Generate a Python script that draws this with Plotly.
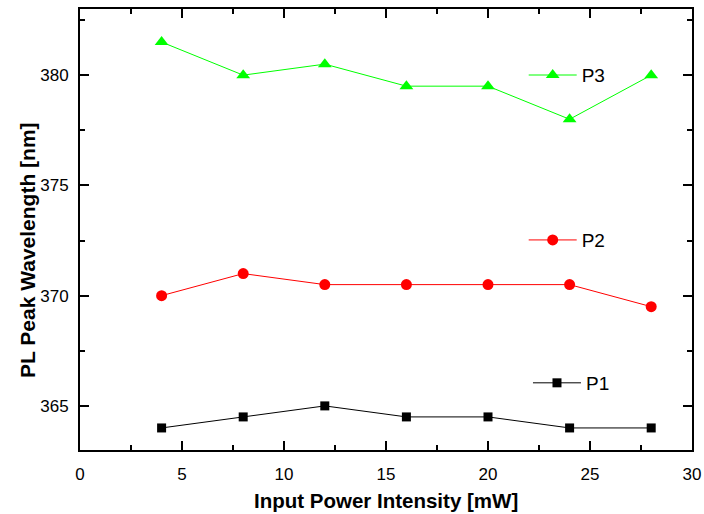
import plotly.graph_objects as go

power = [4, 8, 12, 16, 20, 24, 28]
p1 = [364, 364.5, 365, 364.5, 364.5, 364, 364]
p2 = [370, 371, 370.5, 370.5, 370.5, 370.5, 369.5]
p3 = [381.5, 380, 380.5, 379.5, 379.5, 378, 380]

x_title = "Input Power Intensity [mW]"
y_title = "PL Peak Wavelength [nm]"

fig = go.Figure()
fig.add_trace(go.Scatter(x=power, y=p1, name="P1", mode="lines+markers",
                         line=dict(color="black", width=1),
                         marker=dict(symbol="square", size=9, color="black"),
                         legend="legend", showlegend=True))
fig.add_trace(go.Scatter(x=power, y=p2, name="P2", mode="lines+markers",
                         line=dict(color="#ff0000", width=1),
                         marker=dict(symbol="circle", size=11, color="#ff0000"),
                         legend="legend2", showlegend=True))
fig.add_trace(go.Scatter(x=power, y=p3, name="P3", mode="lines+markers",
                         line=dict(color="#00ff00", width=1),
                         marker=dict(symbol="triangle-up", size=12, color="#00ff00"),
                         legend="legend3", showlegend=True))

fam = "Liberation Sans, Arial, sans-serif"
font = dict(family=fam, size=17, color="black")
lfont = dict(family=fam, size=19, color="black")
leg = dict(xanchor="left", yanchor="middle", bgcolor="rgba(0,0,0,0)",
           font=lfont, borderwidth=0, itemwidth=48)
axis_common = dict(showgrid=False, zeroline=False, showline=True, linecolor="black",
                   linewidth=2, mirror="ticks", ticks="inside", ticklen=9,
                   tickwidth=2, tickcolor="black", automargin=False,
                   tickfont=font)

fig.update_layout(
    width=704, height=514,
    margin=dict(l=80, r=12, t=9, b=64),
    plot_bgcolor="white", paper_bgcolor="white",
    font=font,
    legend=dict(x=0.732, y=0.152, **leg),
    legend2=dict(x=0.725, y=0.476, **leg),
    legend3=dict(x=0.725, y=0.850, **leg),
    xaxis=dict(range=[0, 30], dtick=5, tick0=0,
               minor=dict(ticks="inside", ticklen=5, tickwidth=2, dtick=2.5, tickcolor="black"),
               ticklabelstandoff=8,
               **axis_common),
    yaxis=dict(range=[363, 383], dtick=5, tick0=365,
               minor=dict(ticks="inside", ticklen=5, tickwidth=2, dtick=2.5, tickcolor="black"),
               ticklabelstandoff=6,
               **axis_common),
    annotations=[
        dict(text="<b>" + x_title + "</b>", xref="paper", yref="paper",
             x=0.5, y=-0.1156, xanchor="center", yanchor="middle",
             showarrow=False, font=dict(family=fam, size=20.5, color="black")),
        dict(text="<b>" + y_title + "</b>", xref="paper", yref="paper",
             x=-0.0866, y=0.4535, xanchor="center", yanchor="middle", textangle=-90,
             showarrow=False, font=dict(family=fam, size=21, color="black")),
    ],
)

fig.write_html("out.html", config={"displayModeBar": False},
               post_script="document.body.style.margin='0';")
